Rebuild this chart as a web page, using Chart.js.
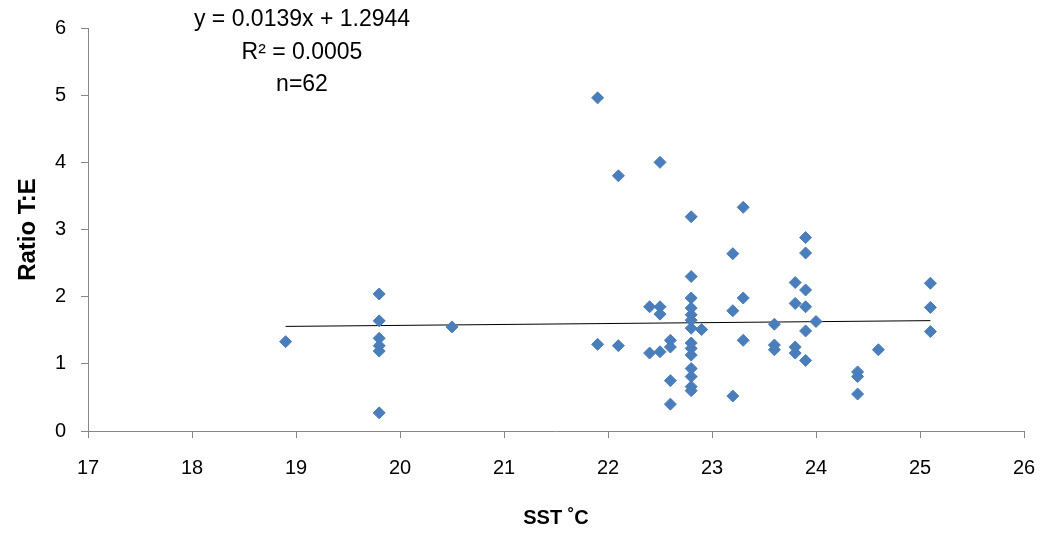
<!DOCTYPE html>
<html>
<head>
<meta charset="utf-8">
<script src="https://cdn.jsdelivr.net/npm/chart.js@4/dist/chart.umd.min.js"></script>
<style>
  html, body { margin: 0; padding: 0; background: #ffffff; }
  #wrap { width: 1042px; height: 534px; }
</style>
</head>
<body>
<div id="wrap"><canvas id="chart" width="1042" height="534"></canvas></div>
<script>
// Sea surface temperature (°C) of each sample
const sstValues = [
  18.9,
  19.8, 19.8, 19.8, 19.8, 19.8, 19.8,
  20.5,
  21.9, 21.9,
  22.1, 22.1,
  22.4, 22.4,
  22.5, 22.5, 22.5, 22.5,
  22.6, 22.6, 22.6, 22.6,
  22.8, 22.8, 22.8, 22.8, 22.8, 22.8, 22.8, 22.8, 22.8, 22.8, 22.8, 22.8, 22.8, 22.8,
  22.9,
  23.2, 23.2, 23.2,
  23.3, 23.3, 23.3,
  23.6, 23.6, 23.6,
  23.8, 23.8, 23.8, 23.8,
  23.9, 23.9, 23.9, 23.9, 23.9, 23.9,
  24.0,
  24.4, 24.4, 24.4,
  24.6,
  25.1, 25.1, 25.1
];

// T:E ratio of each sample (same order as sstValues)
const ratioValues = [
  1.33,
  2.04, 1.64, 1.38, 1.27, 1.19, 0.27,
  1.55,
  4.96, 1.29,
  3.80, 1.27,
  1.85, 1.16,
  4.00, 1.85, 1.74, 1.18,
  1.35, 1.25, 0.75, 0.40,
  3.19, 2.30, 1.98, 1.83, 1.73, 1.65, 1.53, 1.31, 1.23, 1.13, 0.93, 0.81, 0.66, 0.60,
  1.51,
  2.64, 1.79, 0.52,
  3.33, 1.98, 1.35,
  1.59, 1.28, 1.21,
  2.21, 1.90, 1.25, 1.16,
  2.88, 2.65, 2.10, 1.85, 1.49, 1.05,
  1.63,
  0.88, 0.81, 0.55,
  1.21,
  2.20, 1.84, 1.48
];

// Linear fit reported on the chart
const trendSlope = 0.0139;
const trendIntercept = 1.2944;

// Axis ranges and tick step
const xRange = [17, 26];
const yRange = [0, 6];
const tickStep = 1;

// Fit statistics shown in the upper left
const statsLines = ['y = 0.0139x + 1.2944', 'R\u00B2 = 0.0005', 'n=62'];

const points = sstValues.map((x, i) => ({ x: x, y: ratioValues[i] }));
const xMin = Math.min(...sstValues);
const xMax = Math.max(...sstValues);
const trendPoints = [
  { x: xMin, y: trendSlope * xMin + trendIntercept },
  { x: xMax, y: trendSlope * xMax + trendIntercept }
];

const axisGray = '#868686';
const markerBlue = '#4A7EBB';

const statsPlugin = {
  id: 'statsText',
  afterDraw(chart) {
    const ctx = chart.ctx;
    ctx.save();
    ctx.font = '23px "Liberation Sans", Arial, sans-serif';
    ctx.fillStyle = '#000000';
    ctx.textAlign = 'center';
    ctx.textBaseline = 'middle';
    statsLines.forEach((line, i) => ctx.fillText(line, 302, 20 + i * 32.5));
    ctx.restore();
  }
};

new Chart(document.getElementById('chart'), {
  type: 'scatter',
  data: {
    datasets: [
      {
        label: 'Ratio T:E',
        data: points,
        pointStyle: 'rectRot',
        pointRadius: 6,
        pointHoverRadius: 6,
        pointBackgroundColor: markerBlue,
        pointBorderColor: markerBlue,
        pointBorderWidth: 1,
        order: 1
      },
      {
        type: 'line',
        label: 'Linear fit',
        data: trendPoints,
        borderColor: '#000000',
        borderWidth: 1,
        pointRadius: 0,
        fill: false,
        order: 2
      }
    ]
  },
  options: {
    responsive: false,
    animation: false,
    devicePixelRatio: 1,
    layout: { padding: { top: 28, right: 18, left: 0, bottom: 0 } },
    plugins: {
      legend: { display: false },
      tooltip: { enabled: false }
    },
    scales: {
      x: {
        type: 'linear',
        min: xRange[0],
        max: xRange[1],
        afterFit(scale) {
          scale.height = 103;
          // let the last tick label hang into the right margin
          scale.paddingLeft = 0;
          scale.paddingRight = 0;
        },
        ticks: {
          stepSize: tickStep,
          color: '#000000',
          font: { family: '"Liberation Sans", Arial, sans-serif', size: 20 },
          padding: 18
        },
        grid: { drawOnChartArea: false, drawTicks: true, tickLength: 7, color: axisGray },
        border: { color: axisGray, width: 1 },
        title: {
          display: true,
          text: 'SST \u02DAC',
          color: '#000000',
          font: { family: '"Liberation Sans", Arial, sans-serif', size: 20, weight: 'bold' },
          padding: { top: 4, bottom: 4 }
        }
      },
      y: {
        type: 'linear',
        min: yRange[0],
        max: yRange[1],
        afterFit(scale) { scale.width = 88; },
        ticks: {
          stepSize: tickStep,
          color: '#000000',
          font: { family: '"Liberation Sans", Arial, sans-serif', size: 20 },
          padding: 15
        },
        grid: { drawOnChartArea: false, drawTicks: true, tickLength: 7, color: axisGray },
        border: { color: axisGray, width: 1 },
        title: {
          display: true,
          text: 'Ratio T:E',
          color: '#000000',
          font: { family: '"Liberation Sans", Arial, sans-serif', size: 24, weight: 'bold' },
          padding: { top: 14, bottom: 6 }
        }
      }
    }
  },
  plugins: [statsPlugin]
});
</script>
</body>
</html>
